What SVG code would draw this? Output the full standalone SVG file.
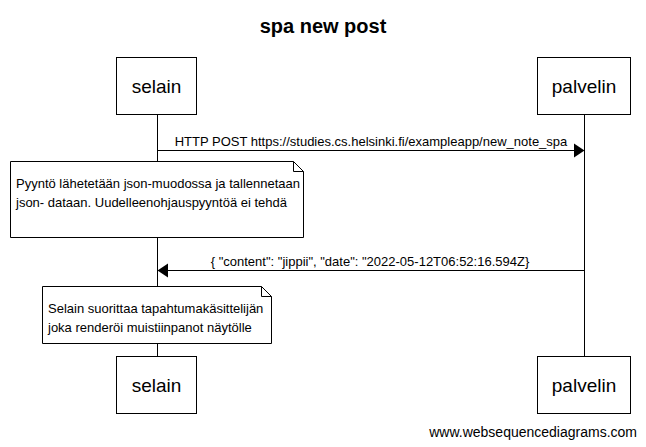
<svg xmlns="http://www.w3.org/2000/svg" width="646" height="447" viewBox="0 0 646 447">
<style>
text{font-family:"Liberation Sans",Arial,sans-serif;fill:#000}
.box{fill:#fff;stroke:#000;stroke-width:1}
.life{stroke:#000;stroke-width:1}
.msg{stroke:#000;stroke-width:1;fill:none}
.pl{font-size:19px;text-anchor:middle}
.ml{font-size:13px;text-anchor:middle}
.nt{font-size:13px}
</style>
<rect width="646" height="447" fill="#fff"/>
<text x="323" y="33" font-size="20" font-weight="bold" text-anchor="middle">spa new post</text>
<g id="lifelines">
<line class="life" x1="157.5" y1="114" x2="157.5" y2="356"/>
<line class="life" x1="584.5" y1="114" x2="584.5" y2="356"/>
</g>
<g id="selain-top"><rect class="box" x="116.5" y="57.5" width="80" height="57"/><text class="pl" x="156.5" y="93">selain</text></g>
<g id="palvelin-top"><rect class="box" x="537.5" y="57.5" width="93" height="57"/><text class="pl" x="584" y="93">palvelin</text></g>
<g id="selain-bottom"><rect class="box" x="116.5" y="356.5" width="80" height="57"/><text class="pl" x="156.5" y="392">selain</text></g>
<g id="palvelin-bottom"><rect class="box" x="537.5" y="356.5" width="93" height="57"/><text class="pl" x="584" y="392">palvelin</text></g>
<g id="connectors">
<line class="msg" x1="157.5" y1="150.5" x2="575" y2="150.5"/>
<polygon points="584.5,150.5 574,143.5 574,157.5" fill="#000"/>
<text class="ml" x="371" y="146">HTTP POST https://studies.cs.helsinki.fi/exampleapp/new_note_spa</text>
<line class="msg" x1="584.5" y1="270.5" x2="167" y2="270.5"/>
<polygon points="157.5,270.5 168,263.5 168,277.5" fill="#000"/>
<text class="ml" x="370" y="266">{ "content": "jippii", "date": "2022-05-12T06:52:16.594Z}</text>
</g>
<g id="note1">
<path class="box" d="M10.5,161.5 H293.5 L303.5,171.5 V237.5 H10.5 Z"/>
<path class="msg" d="M293.5,161.5 V171.5 H303.5"/>
<text class="nt" x="16" y="188">Pyyntö lähetetään json-muodossa ja tallennetaan</text>
<text class="nt" x="16" y="207">json- dataan. Uudelleenohjauspyyntöä ei tehdä</text>
</g>
<g id="note2">
<path class="box" d="M42.5,286.5 H261.5 L271.5,296.5 V343.5 H42.5 Z"/>
<path class="msg" d="M261.5,286.5 V296.5 H271.5"/>
<text class="nt" x="48" y="313">Selain suorittaa tapahtumakäsittelijän</text>
<text class="nt" x="48" y="332">joka renderöi muistiinpanot näytölle</text>
</g>
<text x="637" y="437" font-size="14" text-anchor="end">www.websequencediagrams.com</text>
</svg>
